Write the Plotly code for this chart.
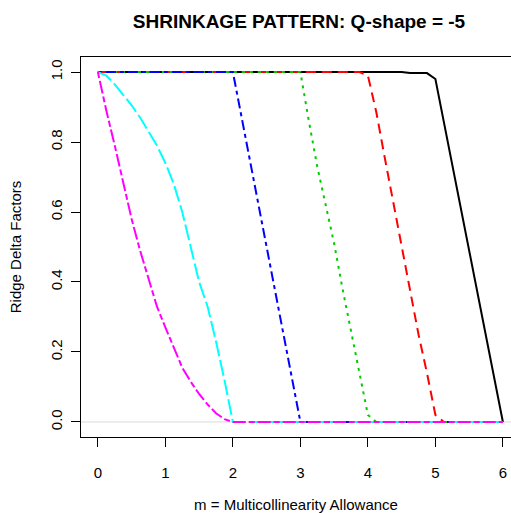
import plotly.graph_objects as go

# ---- data (m = multicollinearity allowance, delta = ridge delta factor)
m_black = [0, 4.5, 4.625, 4.75, 4.875, 5.0, 6.0]
d_black = [1.0, 1.0, 0.997, 0.997, 0.997, 0.98, 0.0]

m_red = [0, 3.875, 4.0, 4.125, 4.25, 4.375, 4.5, 4.625, 4.75, 4.875, 5.0, 5.125, 6.0]
d_red = [1.0, 1.0, 0.99, 0.885, 0.755, 0.63, 0.50, 0.37, 0.25, 0.14, 0.02, 0.0, 0.0]

m_green = [0, 3.0, 3.125, 3.25, 3.375, 3.5, 3.625, 3.75, 3.875, 4.0, 4.125, 6.0]
d_green = [1.0, 1.0, 0.86, 0.73, 0.62, 0.51, 0.38, 0.26, 0.15, 0.02, 0.0, 0.0]

m_blue = [0, 2.0, 2.125, 2.25, 2.375, 2.5, 2.625, 2.75, 2.875, 3.0, 6.0]
d_blue = [1.0, 1.0, 0.875, 0.75, 0.62, 0.50, 0.37, 0.245, 0.12, 0.0, 0.0]

m_cyan = [0, 0.125, 0.25, 0.375, 0.5, 0.625, 0.75, 0.875, 1.0, 1.125, 1.25, 1.375,
          1.5, 1.625, 1.75, 1.875, 2.0, 6.0]
d_cyan = [1.0, 0.99, 0.965, 0.935, 0.905, 0.87, 0.83, 0.79, 0.74, 0.68, 0.60, 0.50,
          0.40, 0.33, 0.23, 0.12, 0.0, 0.0]

m_magenta = [0, 0.125, 0.25, 0.375, 0.5, 0.625, 0.75, 0.875, 1.0, 1.125, 1.25, 1.375,
             1.5, 1.625, 1.75, 1.875, 2.0, 6.0]
d_magenta = [1.0, 0.89, 0.79, 0.685, 0.58, 0.49, 0.41, 0.33, 0.27, 0.21, 0.155, 0.115,
             0.08, 0.05, 0.025, 0.008, 0.0, 0.0]

x_ticks = [0, 1, 2, 3, 4, 5, 6]
y_ticks = [0.0, 0.2, 0.4, 0.6, 0.8, 1.0]
y_tick_labels = ["0.0", "0.2", "0.4", "0.6", "0.8", "1.0"]

title_text = "SHRINKAGE PATTERN: Q-shape = -5"
x_title = "m = Multicollinearity Allowance"
y_title = "Ridge Delta Factors"

series = [
    (m_black, d_black, "black", "solid"),
    (m_red, d_red, "red", "10px,6px"),
    (m_green, d_green, "#00cd00", "3px,5px"),
    (m_blue, d_blue, "blue", "4px,4px,10px,4px"),
    (m_cyan, d_cyan, "cyan", "16px,4px"),
    (m_magenta, d_magenta, "magenta", "6px,3px,13px,3px"),
]

fig = go.Figure()
for mx, dy, col, dash in series:
    fig.add_trace(go.Scatter(x=mx, y=dy, mode="lines",
                             line=dict(color=col, width=2, dash=dash),
                             showlegend=False, hoverinfo="skip"))

fig.add_shape(type="line", xref="paper", yref="y", x0=0, x1=1, y0=0, y1=0,
              line=dict(color="#d9d9d9", width=1), layer="below")

font_fam = "Liberation Sans, Arial, sans-serif"
fig.update_layout(
    width=511, height=513,
    margin=dict(l=81, r=0, t=57, b=76, autoexpand=False),
    paper_bgcolor="white", plot_bgcolor="white",
    font=dict(family=font_fam, size=15, color="black"),
    title=dict(text="<b>" + title_text + "</b>", x=299 / 511, xref="container",
               xanchor="center", y=1 - 21 / 513, yref="container", yanchor="middle",
               font=dict(size=19, family=font_fam, color="black")),
    xaxis=dict(range=[-0.25, 6.12], tickvals=x_ticks, ticktext=[str(v) for v in x_ticks],
               showgrid=False, zeroline=False, showline=True, mirror=True,
               automargin=False,
               linecolor="black", linewidth=1, ticks="outside", ticklen=9,
               tickcolor="black", tickwidth=1, ticklabelstandoff=13,
               title=dict(text=x_title, standoff=28, font=dict(size=15))),
    yaxis=dict(range=[-0.043, 1.043], tickvals=y_ticks, ticktext=y_tick_labels,
               showgrid=False, zeroline=False, showline=True, mirror=False,
               automargin=False,
               linecolor="black", linewidth=1, ticks="outside", ticklen=9,
               tickcolor="black", tickwidth=1, tickangle=-90, ticklabelstandoff=3,
               title=dict(text=y_title, standoff=22, font=dict(size=15))),
)

fig.write_html("out.html",
               config={"displayModeBar": False},
               post_script="document.body.style.margin='0';"
                           "document.documentElement.style.overflow='hidden';")
